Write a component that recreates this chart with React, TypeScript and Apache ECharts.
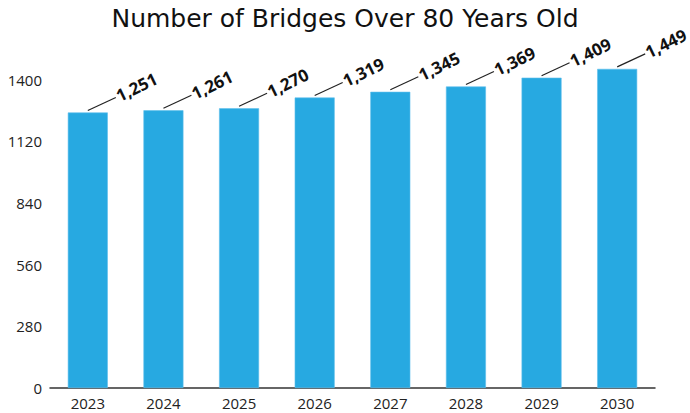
import React, { useEffect, useRef } from "react";
import * as echarts from "echarts";

const categories = ["2023", "2024", "2025", "2026", "2027", "2028", "2029", "2030"];
const values = [1251, 1261, 1270, 1319, 1345, 1369, 1409, 1449];
const yTicks = [0, 280, 560, 840, 1120, 1400];

const fmt = (v: number) => v.toLocaleString("en-US");

export default function App() {
  const ref = useRef<HTMLDivElement>(null);
  useEffect(() => {
    if (!ref.current) return;
    const chart = echarts.init(ref.current, undefined, { renderer: "svg" });
    const font = "'Open Sans', 'Noto Sans', sans-serif";
    chart.setOption({
      animation: false,
      title: {
        text: "Number of Bridges Over 80 Years Old",
        left: "center",
        top: 1,
        textStyle: { fontFamily: "'DejaVu Sans', sans-serif", fontSize: 25, fontWeight: "normal", color: "#111" },
      },
      grid: { left: 50, right: 35, top: 18, bottom: 25, containLabel: false },
      xAxis: {
        type: "category",
        data: categories,
        axisLine: { lineStyle: { color: "#333", width: 1.5 } },
        axisTick: { show: false },
        axisLabel: { fontFamily: font, fontSize: 15, lineHeight: 16, color: "#222", margin: 7 },
      },
      yAxis: {
        type: "value",
        min: 0,
        max: 1680,
        interval: 280,
        splitLine: { show: false },
        axisLine: { show: false },
        axisTick: { show: false },
        axisLabel: {
          fontFamily: font,
          fontSize: 15,
          color: "#222",
          margin: 8,
          padding: [6, 0, 0, 0],
          showMaxLabel: false,
          formatter: (v: number) => (yTicks.includes(v) ? String(v) : ""),
        },
      },
      series: [
        {
          type: "bar",
          data: values,
          barWidth: 40,
          itemStyle: { color: "#27a9e1", borderColor: "#5fc0ec", borderWidth: 0.6 },
        },
        {
          type: "custom",
          data: values.map((v, i) => [i, v]),
          z: 10,
          renderItem: (params: any, api: any) => {
            const p = api.coord([api.value(0), api.value(1)]);
            const x = p[0];
            const y = p[1] - 2;
            const rot = (26 * Math.PI) / 180;
            return {
              type: "group",
              children: [
                {
                  type: "line",
                  shape: { x1: x, y1: y, x2: x + 28, y2: y - 13 },
                  style: { stroke: "#222", lineWidth: 1.2 },
                },
                {
                  type: "text",
                  x: x + 29,
                  y: y - 14,
                  rotation: rot,
                  style: {
                    text: fmt(api.value(1)),
                    fontFamily: font,
                    fontSize: 17,
                    fontWeight: "bold",
                    fill: "#111",
                    textAlign: "left",
                    textVerticalAlign: "middle",
                  },
                },
              ],
            };
          },
        },
      ],
    });
    return () => chart.dispose();
  }, []);
  return <div ref={ref} style={{ position: "absolute", left: 0, top: 0, width: 690, height: 413 }} />;
}
